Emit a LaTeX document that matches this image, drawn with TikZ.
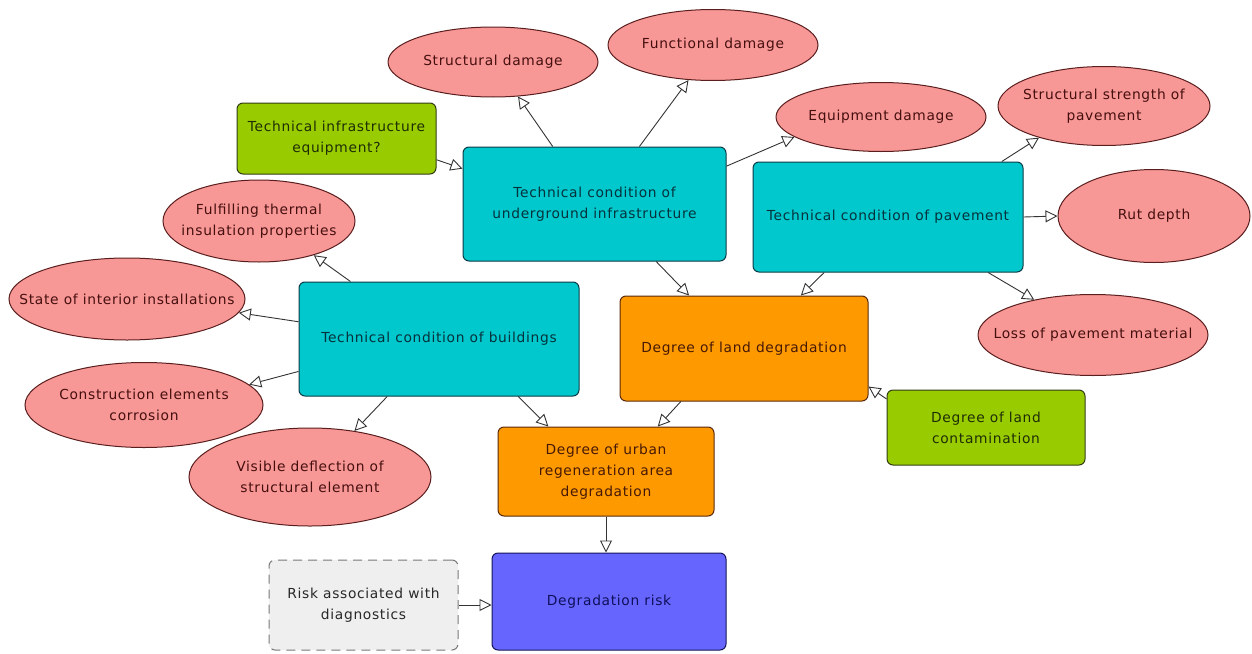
\documentclass[tikz,border=0pt]{standalone}
\usepackage{fontspec}
\setmainfont[LetterSpace=5]{DejaVu Sans}
\usetikzlibrary{shapes.geometric,arrows.meta}
\definecolor{ellfill}{RGB}{248,152,150}
\definecolor{ellline}{RGB}{90,30,30}
\definecolor{ellText}{RGB}{70,15,15}
\definecolor{cyanfill}{RGB}{0,200,204}
\definecolor{cyanline}{RGB}{10,60,70}
\definecolor{cyanText}{RGB}{5,50,60}
\definecolor{orfill}{RGB}{255,153,0}
\definecolor{orline}{RGB}{90,40,10}
\definecolor{orText}{RGB}{70,25,5}
\definecolor{grfill}{RGB}{153,204,0}
\definecolor{grline}{RGB}{50,60,20}
\definecolor{grText}{RGB}{30,45,5}
\definecolor{blfill}{RGB}{102,102,255}
\definecolor{blline}{RGB}{20,20,90}
\definecolor{blText}{RGB}{15,15,90}
\definecolor{gyfill}{RGB}{239,239,239}
\definecolor{gyline}{RGB}{120,120,120}
\definecolor{gyText}{RGB}{40,40,40}
\begin{document}
\begin{tikzpicture}[x=1pt,y=-1pt,
  every node/.style={font=\fontsize{13.8}{21}\selectfont, align=center, inner sep=0pt, line width=1pt},
  ell/.style={ellipse, draw=ellline, fill=ellfill, text=ellText, inner xsep=-60pt, inner ysep=-20pt},
  box/.style={rectangle, rounded corners=6pt},
  cyanbox/.style={box, draw=cyanline, fill=cyanfill, text=cyanText},
  orbox/.style={box, draw=orline, fill=orfill, text=orText},
  grbox/.style={box, draw=grline, fill=grfill, text=grText},
  blbox/.style={box, draw=blline, fill=blfill, text=blText},
  gybox/.style={box, draw=gyline, fill=gyfill, text=gyText, dashed, dash pattern=on 9pt off 6pt},
  link/.style={draw=black!80, line width=0.9pt, -{Triangle[open, length=12pt, width=12pt]}}
]
\useasboundingbox (0,0) rectangle (1252,653);
% ellipses
\node[ell, minimum width=210, minimum height=70] (sd) at (493,62) {Structural damage};
\node[ell, minimum width=210, minimum height=71] (fd) at (713,45) {Functional damage};
\node[ell, minimum width=210, minimum height=69] (ed) at (881,117) {Equipment damage};
\node[ell, minimum width=212, minimum height=79] (ss) at (1104,106) {Structural strength of\\pavement};
\node[ell, minimum width=192, minimum height=93] (rd) at (1154,216) {Rut depth};
\node[ell, minimum width=230, minimum height=81] (lp) at (1093,335) {Loss of pavement material};
\node[ell, minimum width=192, minimum height=82] (ti) at (259,221) {Fulfilling thermal\\insulation properties};
\node[ell, minimum width=236, minimum height=82] (si) at (127,299) {State of interior installations};
\node[ell, minimum width=238, minimum height=85] (ce) at (144,405) {Construction elements\\corrosion};
\node[ell, minimum width=242, minimum height=98] (vd) at (310,477) {Visible deflection of\\structural element};
% boxes
\node[grbox, minimum width=199, minimum height=71] (eq) at (336.5,138.5) {Technical infrastructure\\equipment?};
\node[cyanbox, minimum width=263, minimum height=114] (ug) at (594.5,204) {Technical condition of\\underground infrastructure};
\node[cyanbox, minimum width=270, minimum height=110] (pv) at (888,217) {Technical condition of pavement};
\node[cyanbox, minimum width=280, minimum height=114] (bd) at (439,339) {Technical condition of buildings};
\node[orbox, minimum width=248, minimum height=105] (ld) at (744,348.5) {Degree of land degradation};
\node[grbox, minimum width=198, minimum height=75] (lc) at (986,427.5) {Degree of land\\contamination};
\node[orbox, minimum width=216, minimum height=89] (ur) at (606,471.5) {Degree of urban\\regeneration area\\degradation};
\node[blbox, minimum width=234, minimum height=97] (rk) at (609,601.5) {Degradation risk};
\node[gybox, minimum width=189, minimum height=90] (dg) at (363.5,605) {Risk associated with\\diagnostics};
% connectors
\draw[link] (eq.-12.2) -- (ug.165.5);
\draw[link] (ug.126.7) -- (sd.-54.5);
\draw[link] (ug.52.6) -- (fd.235.1);
\draw[link] (ug.16.5) -- (ed.193.9);
\draw[link] (ug.-43.3) -- (ld.136.8);
\draw[link] (pv.26.2) -- (ss.206.6);
\draw[link] (pv.east) -- (rd.west);
\draw[link] (pv.-29.6) -- (lp.149.6);
\draw[link] (pv.221.1) -- (ld.43.2);
\draw[link] (bd.147.4) -- (ti.-32.7);
\draw[link] (bd.173.1) -- (si.-7.5);
\draw[link] (bd.193.3) -- (ce.11.7);
\draw[link] (bd.228.2) -- (vd.46.6);
\draw[link] (bd.-36.9) -- (ur.142.5);
\draw[link] (ld.220.7) -- (ur.41.6);
\draw[link] (lc.164.5) -- (ld.-17.7);
\draw[link] (ur.south) -- (ur.south |- rk.north);
\draw[link] (dg.east) -- (dg.east -| rk.west);
\end{tikzpicture}
\end{document}
